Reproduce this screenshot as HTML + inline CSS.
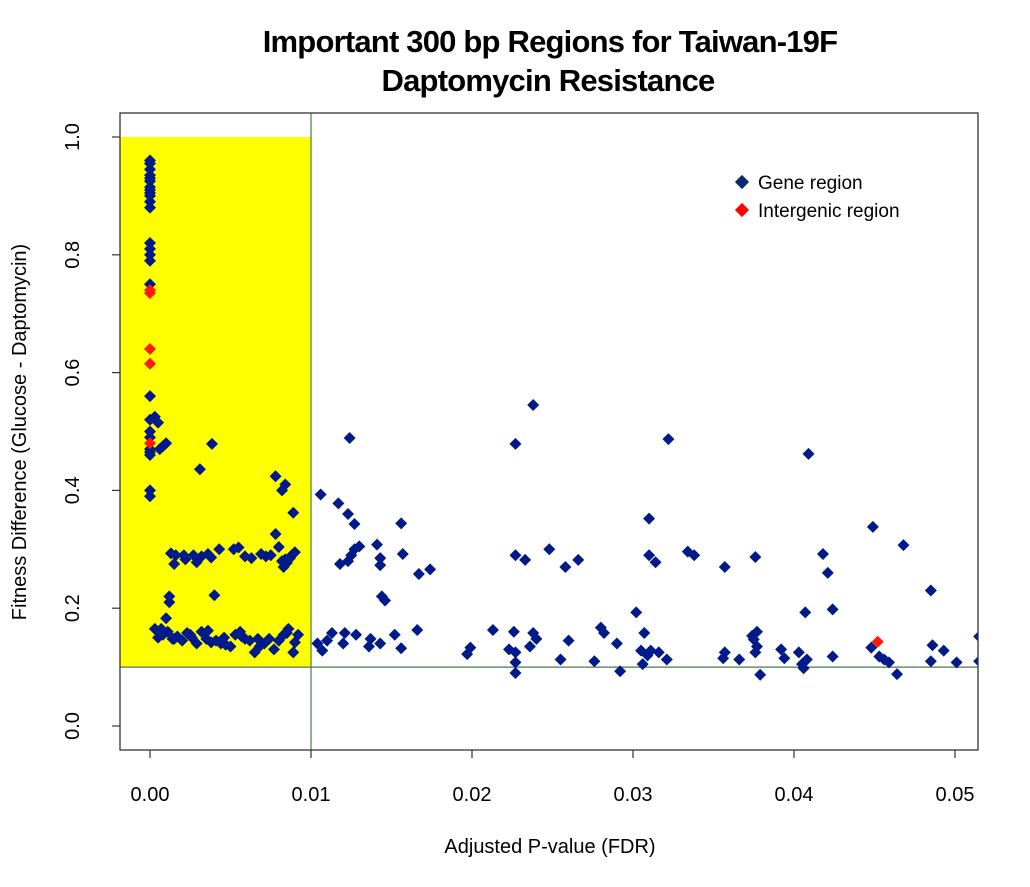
<!DOCTYPE html>
<html><head><meta charset="utf-8"><style>
body{margin:0;background:#fff;}
svg text{font-family:"Liberation Sans",sans-serif;}
</style></head><body>
<svg id="svg" width="1030" height="882" viewBox="0 0 1030 882" xmlns="http://www.w3.org/2000/svg">
<defs><clipPath id="clip"><rect x="120" y="113" width="858" height="637"/></clipPath></defs>
<g>
<text x="550" y="52" text-anchor="middle" font-size="31" font-weight="bold" letter-spacing="-0.8">Important 300 bp Regions for Taiwan-19F</text>
<text x="548" y="91" text-anchor="middle" font-size="31" font-weight="bold" letter-spacing="-0.8">Daptomycin Resistance</text>
</g>
<rect id="hl" fill="#ffff00"/>
<line id="vthr" stroke="#4a7a4a" stroke-width="1.2"/>
<line id="hthr" stroke="#4a7a4a" stroke-width="1.2"/>
<g id="axes"></g>
<g id="points" clip-path="url(#clip)"></g>
<rect x="120" y="113" width="858" height="637" fill="none" stroke="#333" stroke-width="1.3"/>
<g>
<rect x="737" y="177" width="10" height="10" transform="rotate(45 742 182)" fill="#0a2a6e"/>
<text x="758" y="189" font-size="19">Gene region</text>
<rect x="737" y="205" width="10" height="10" transform="rotate(45 742 210)" fill="#ff0000"/>
<text x="758" y="217" font-size="19">Intergenic region</text>
</g>
<text x="550" y="853" text-anchor="middle" font-size="20">Adjusted P-value (FDR)</text>
<text x="0" y="0" transform="translate(26 432) rotate(-90)" text-anchor="middle" font-size="20">Fitness Difference (Glucose - Daptomycin)</text>
</svg>
<script>
const xTicks=[0,0.01,0.02,0.03,0.04,0.05];
const xTickLabels=["0.00","0.01","0.02","0.03","0.04","0.05"];
const yTicks=[0,0.2,0.4,0.6,0.8,1.0];
const yTickLabels=["0.0","0.2","0.4","0.6","0.8","1.0"];
const fdrThreshold=0.01;
const fitnessThreshold=0.1;
const fitnessMax=1.0;
const geneX=[0,0,0,0,0,0,0,0,0,0,0,0,0,0,0,0,0,0,0,0,0,0,0,0,0,0,
0.0003,0.0005,0.0008,0.001,0.0006,0.00385,0.0031,0.0078,0.0084,0.0082,0.0089,0.0078,0.008,
0.0012,0.0012,0.004,0.001,0.0007,
0.0013,0.0015,0.0016,0.0021,0.0022,0.0027,0.0029,0.0032,0.0036,0.0038,0.0043,0.0052,0.0055,0.0059,0.0063,0.0069,0.0072,0.0075,0.0083,0.0085,0.0087,0.0088,0.009,0.0084,0.0082,
0.0005,0.0008,0.0011,0.0014,0.0017,0.002,0.0023,0.0026,0.0029,0.0032,0.0035,0.0038,0.0041,0.0044,0.0047,0.005,0.0053,0.0056,0.0059,0.0062,0.0065,0.0068,0.0071,0.0074,0.0077,0.008,0.0083,0.0086,0.0089,0.0092,
0.0003,0.0015,0.0025,0.0036,0.0046,0.0057,0.0067,0.0085,0.009,
0.0106,0.0117,0.0124,0.0123,0.0127,0.0118,0.0123,0.0125,0.0127,0.013,0.0141,0.0143,0.0143,0.0144,0.0146,0.0156,0.0157,0.0167,0.0174,0.0166,
0.0104,0.0107,0.011,0.0113,0.012,0.0121,0.0128,0.0136,0.0137,0.0143,0.0152,0.0156,
0.0197,0.0199,0.0213,0.0223,0.0226,0.0227,0.0227,0.0227,0.0227,0.0227,
0.0233,0.0236,0.0238,0.0238,0.024,0.0248,0.0255,0.0258,0.026,0.0266,
0.0276,0.028,0.0282,0.029,0.0292,0.0302,0.0305,0.0306,0.0307,0.0309,
0.031,0.031,0.0311,0.0314,0.0316,0.0322,0.0321,0.0334,0.0338,0.0356,
0.0357,0.0357,0.0366,0.0374,0.0375,0.0376,0.0377,0.0377,0.0376,0.0379,
0.0392,0.0394,0.0403,0.0405,0.0406,0.0407,0.0408,0.0409,0.0418,0.0421,
0.0424,0.0424,0.0448,0.0449,0.0453,0.0456,0.0459,0.0464,0.0468,0.0485,
0.0485,0.0486,0.0493,0.0501,0.0515,0.0515];
const geneY=[0.96,0.955,0.945,0.935,0.93,0.925,0.915,0.91,0.905,0.9,0.89,0.88,0.82,0.81,0.80,0.79,0.75,0.56,0.52,0.50,0.49,0.47,0.46,0.465,0.40,0.39,
0.525,0.515,0.475,0.48,0.47,0.479,0.436,0.424,0.41,0.40,0.362,0.326,0.304,
0.22,0.21,0.222,0.183,0.165,
0.293,0.275,0.29,0.29,0.283,0.29,0.278,0.288,0.292,0.286,0.3,0.3,0.303,0.288,0.285,0.292,0.288,0.29,0.27,0.277,0.285,0.29,0.295,0.283,0.28,
0.15,0.155,0.16,0.148,0.152,0.145,0.158,0.15,0.14,0.16,0.148,0.142,0.145,0.14,0.138,0.135,0.155,0.16,0.148,0.145,0.125,0.135,0.14,0.148,0.13,0.145,0.155,0.165,0.125,0.155,
0.165,0.148,0.155,0.162,0.15,0.152,0.148,0.158,0.142,
0.393,0.378,0.489,0.36,0.343,0.275,0.28,0.29,0.3,0.305,0.308,0.285,0.273,0.22,0.213,0.344,0.292,0.258,0.266,0.163,
0.14,0.128,0.145,0.158,0.14,0.158,0.155,0.135,0.148,0.14,0.155,0.132,
0.122,0.133,0.163,0.13,0.16,0.09,0.108,0.125,0.479,0.29,
0.282,0.135,0.545,0.158,0.148,0.3,0.113,0.27,0.145,0.282,
0.11,0.167,0.158,0.14,0.093,0.193,0.128,0.105,0.158,0.12,
0.352,0.29,0.128,0.278,0.125,0.487,0.113,0.296,0.29,0.115,
0.125,0.27,0.113,0.153,0.147,0.287,0.16,0.135,0.125,0.087,
0.13,0.115,0.125,0.105,0.098,0.193,0.113,0.462,0.292,0.26,
0.198,0.118,0.133,0.338,0.118,0.113,0.108,0.088,0.307,0.23,
0.11,0.137,0.128,0.108,0.152,0.11];
const intergenicX=[0,0,0,0,0,0.0452];
const intergenicY=[0.74,0.735,0.64,0.615,0.48,0.143];
</script>
<script>
const NS="http://www.w3.org/2000/svg";
const L=120,R=978,T=113,B=750;
const sx=v=>150+v*16100;
const sy=v=>726-v*589;
function mk(tag,attrs,parent){const e=document.createElementNS(NS,tag);for(const k in attrs)e.setAttribute(k,attrs[k]);parent.appendChild(e);return e;}
const hl=document.getElementById('hl');
hl.setAttribute('x',L);hl.setAttribute('y',sy(fitnessMax));hl.setAttribute('width',sx(fdrThreshold)-L);hl.setAttribute('height',sy(fitnessThreshold)-sy(fitnessMax));
const v=document.getElementById('vthr');
v.setAttribute('x1',sx(fdrThreshold));v.setAttribute('x2',sx(fdrThreshold));v.setAttribute('y1',T);v.setAttribute('y2',B);
const h=document.getElementById('hthr');
h.setAttribute('x1',L);h.setAttribute('x2',R);h.setAttribute('y1',sy(fitnessThreshold));h.setAttribute('y2',sy(fitnessThreshold));
const ax=document.getElementById('axes');
xTicks.forEach((t,i)=>{
 const ln=mk('line',{x1:sx(t),x2:sx(t),y1:B,y2:B+8,stroke:'#333','stroke-width':1.2},ax);
 
 
 const tx=mk('text',{x:sx(t),y:B+51,'text-anchor':'middle','font-size':20},ax);
 tx.textContent=xTickLabels[i];
 
 
});
yTicks.forEach((t,i)=>{
 const ln=mk('line',{x1:L-8,x2:L,y1:sy(t),y2:sy(t),stroke:'#333','stroke-width':1.2},ax);
 
 
 const tx=mk('text',{x:0,y:0,transform:`translate(${L-41} ${sy(t)}) rotate(-90)`,'text-anchor':'middle','font-size':20},ax);
 tx.textContent=yTickLabels[i];
 
 
});
const pg=document.getElementById('points');
function pts(xs,ys,color,name){
 const n=Math.min(xs.length,ys.length);
 for(let i=0;i<n;i++){
  const cx=sx(xs[i]),cy=sy(ys[i]),s=6;
  const p=mk('polygon',{points:`${cx},${cy-s} ${cx+s},${cy} ${cx},${cy+s} ${cx-s},${cy}`,fill:color},pg);
  
  
 }
}
pts(geneX,geneY,'#001a8a','gene-region-point');
pts(intergenicX,intergenicY,'#ff1a00','intergenic-region-point');
</script>
</body></html>
